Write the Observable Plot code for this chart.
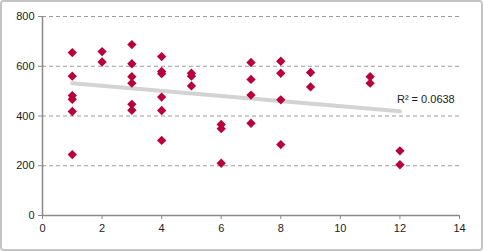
<!DOCTYPE html>
<html>
<head>
<meta charset="utf-8">
<script src="https://cdn.jsdelivr.net/npm/d3@7"></script>
<script src="https://cdn.jsdelivr.net/npm/@observablehq/plot@0.6"></script>
<style>
  html, body { margin: 0; padding: 0; background: #fff; }
  #wrap { width: 479px; height: 247px; border: 2px solid #c4c4c4; border-radius: 4px; overflow: hidden; }
  #wrap svg { display: block; }
</style>
</head>
<body>
<div id="wrap"></div>
<script>
const xs = [1,1,1,1,1,1, 2,2, 3,3,3,3,3,3, 4,4,4,4,4,4, 5,5,5, 6,6,6, 7,7,7,7, 8,8,8,8, 9,9, 11,11, 12,12];
const ys = [655,560,482,467,418,245, 659,617, 687,610,558,532,447,423, 639,579,570,476,422,302, 572,560,521, 366,349,210, 615,547,484,371, 620,572,465,285, 575,517, 558,532, 260,204];
const xTicks = [0,2,4,6,8,10,12,14];
const yTicks = [0,200,400,600,800];
const gridLines = [200,400,600,800];
const annotation = [{x: 11.9, y: 466, label: "R² = 0.0638"}];

const data = xs.map((x, i) => ({x, y: ys[i]}));

const chart = Plot.plot({
  width: 479,
  height: 247,
  marginLeft: 40,
  marginRight: 22,
  marginTop: 14,
  marginBottom: 34,
  style: { fontFamily: "Liberation Sans, Arial, sans-serif", fontSize: "11px", background: "#fff", color: "#222" },
  x: { domain: [0, 14] },
  y: { domain: [0, 800] },
  marks: [
    Plot.ruleY(gridLines, { stroke: "#9a9a9a", strokeDasharray: "4,3", strokeWidth: 1 }),
    Plot.ruleX([0], { stroke: "#8a8a8a", strokeWidth: 1.5 }),
    Plot.ruleY([0], { stroke: "#8a8a8a", strokeWidth: 1.5 }),
    Plot.axisX({ ticks: xTicks, tickSize: 4, tickPadding: 5, stroke: "#8a8a8a", label: null, fill: "#222" }),
    Plot.axisY({ ticks: yTicks, tickSize: 4, tickPadding: 4, stroke: "#8a8a8a", label: null, fill: "#222" }),
    Plot.linearRegressionY(data, { x: "x", y: "y", ci: 0, stroke: "#d3d3d3", strokeWidth: 4 }),
    Plot.dot(data, { x: "x", y: "y", symbol: "diamond2", r: 4.2, fill: "#b8003a", stroke: "none" }),
    Plot.text(annotation, { x: "x", y: "y", text: "label", textAnchor: "start", fontSize: 11, fill: "#222" })
  ]
});
document.getElementById("wrap").appendChild(chart);
</script>
</body>
</html>
